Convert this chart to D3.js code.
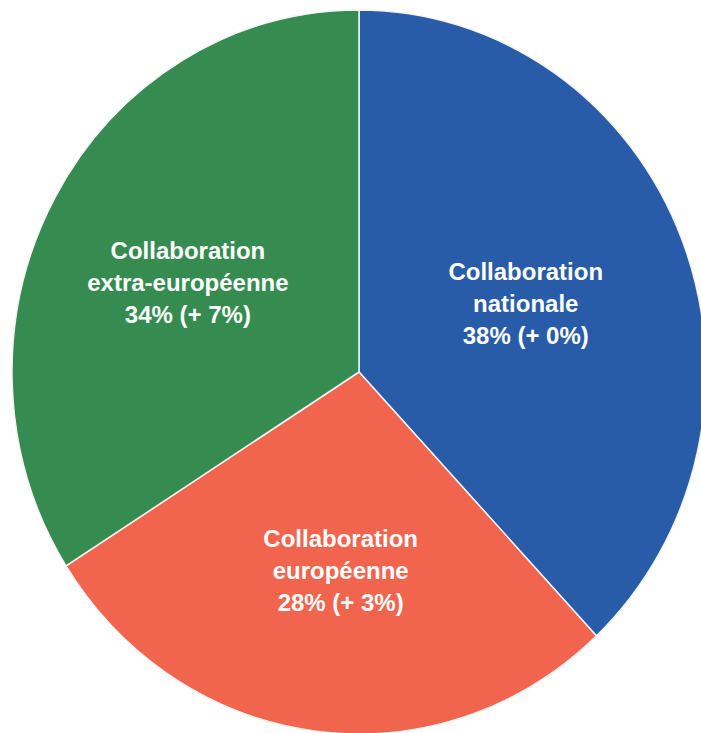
<!DOCTYPE html>
<html>
<head>
<meta charset="utf-8">
<script src="https://cdn.jsdelivr.net/npm/d3@7"></script>
<style>
  html, body { margin: 0; padding: 0; background: #fff; }
  svg { display: block; }
</style>
</head>
<body>
<svg id="chart" width="701" height="733"></svg>
<script>
// chart data
const categories = ["Collaboration nationale", "Collaboration européenne", "Collaboration extra-européenne"];
const values = [38, 28, 34];
const changes = ["+ 0%", "+ 3%", "+ 7%"];
const labelLines = [
  ["Collaboration", "nationale"],
  ["Collaboration", "européenne"],
  ["Collaboration", "extra-européenne"]
];
const colors = ["#285ca8", "#f1644d", "#368b50"];

const svg = d3.select("#chart");
const cx = 359, cy = 372;
const rx = 347, ry = 362;

const pie = d3.pie().sort(null).value(d => d);
const arcs = pie(values);
const arc = d3.arc().innerRadius(0).outerRadius(rx);

// the reference pie is a little taller than wide
const g = svg.append("g")
  .attr("transform", `translate(${cx},${cy}) scale(1,${ry / rx})`);

g.selectAll("path")
  .data(arcs)
  .enter()
  .append("path")
  .attr("d", arc)
  .attr("fill", (d, i) => colors[i])
  .attr("stroke", "#f4f4f4")
  .attr("stroke-width", 1.5)
  .attr("vector-effect", "non-scaling-stroke");

// label positions: fraction of radius along slice middle, plus a nudge
const labelRadius = [0.52, 0.56, 0.52];
const labelNudge = [[-1, 1], [6, -2], [-13, 2]];
const labels = svg.append("g")
  .attr("transform", `translate(${cx},${cy})`);

arcs.forEach((d, i) => {
  const mid = (d.startAngle + d.endAngle) / 2;
  const r = rx * labelRadius[i];
  const x = Math.sin(mid) * r + labelNudge[i][0];
  const y = -Math.cos(mid) * r * ry / rx + labelNudge[i][1];
  const lines = labelLines[i].concat([values[i] + "% (" + changes[i] + ")"]);
  const t = labels.append("text")
    .attr("x", x)
    .attr("y", y - 32 + 8)
    .attr("text-anchor", "middle")
    .attr("fill", "#fff")
    .style("font-family", "'Liberation Sans', Arial, sans-serif")
    .style("font-weight", "bold")
    .style("font-size", "24px");
  lines.forEach((line, j) => {
    t.append("tspan")
      .attr("x", x)
      .attr("dy", j === 0 ? 0 : 32)
      .text(line);
  });
});
</script>
</body>
</html>
